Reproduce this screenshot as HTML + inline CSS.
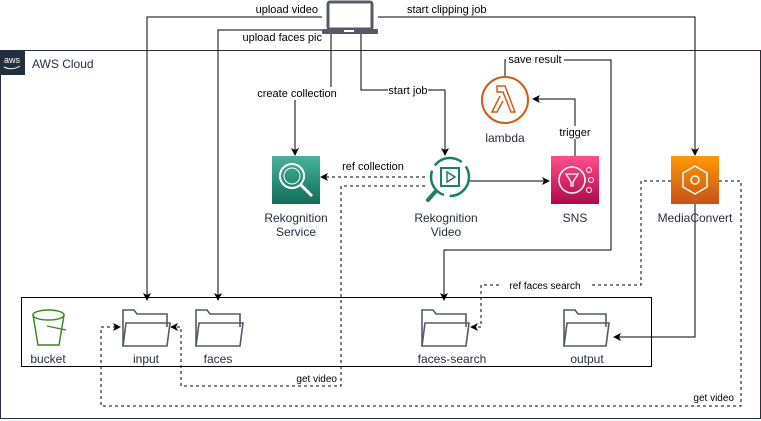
<!DOCTYPE html>
<html><head><meta charset="utf-8"><style>
html,body{margin:0;padding:0;background:#fff}
svg{display:block}
text{font-family:"Liberation Sans",Arial,sans-serif;font-size:11px;fill:#000}
.lbl{fill:#232F3E;font-size:12px}
</style></head><body>
<svg width="761" height="421" viewBox="0 0 761 421" xmlns="http://www.w3.org/2000/svg">
<defs>
<marker id="a" markerWidth="8" markerHeight="8" refX="7" refY="4" orient="auto" markerUnits="userSpaceOnUse"><path d="M0,0 L8,4 L0,8 L2,4z" fill="#000"/></marker>
<linearGradient id="gG" x1="0" y1="1" x2="0" y2="0"><stop offset="0" stop-color="#116D5B"/><stop offset="1" stop-color="#4AB29A"/></linearGradient>
<linearGradient id="gP" x1="0" y1="1" x2="0" y2="0"><stop offset="0" stop-color="#B0084D"/><stop offset="1" stop-color="#FF4F8B"/></linearGradient>
<linearGradient id="gO" x1="0" y1="1" x2="0" y2="0"><stop offset="0" stop-color="#C8511B"/><stop offset="1" stop-color="#FF9900"/></linearGradient>
</defs>
<!-- AWS cloud -->
<rect x="0.5" y="50.5" width="760" height="368" fill="none" stroke="#232F3E" stroke-width="1"/>
<rect x="0" y="50" width="25" height="25" fill="#232F3E"/>
<text x="4" y="63" style="fill:#fff;font-size:9px">aws</text>
<path d="M4,67 Q12,71 20,66" stroke="#fff" fill="none" stroke-width="1"/>
<text x="32" y="68" class="lbl">AWS Cloud</text>
<!-- laptop -->
<rect x="328" y="2" width="44" height="27" rx="2" fill="none" stroke="#545B64" stroke-width="3"/>
<rect x="322" y="29" width="56" height="5" rx="1" fill="#545B64"/>
<rect x="344" y="30" width="10" height="2" fill="#fff"/>
<!-- bucket box -->
<rect x="21.5" y="297.5" width="630" height="69" fill="none" stroke="#000"/>
<g stroke="#000" fill="none" stroke-width="1">
<path d="M322,17 H147 V300" marker-end="url(#a)"/>
<path d="M322,30 H218 V300" marker-end="url(#a)"/>
<path d="M331,34 V93 H295 V155" marker-end="url(#a)"/>
<path d="M361,34 V90 H445 V155" marker-end="url(#a)"/>
<path d="M378,17 H695 V155" marker-end="url(#a)"/>
<path d="M468,181 H549" marker-end="url(#a)"/>
<path d="M575,156 V99 H533" marker-end="url(#a)"/>
<path d="M505,76 V60 H611 V250 H444 V300" marker-end="url(#a)"/>
<path d="M695,204 V337 H614" marker-end="url(#a)"/>
</g>
<g stroke="#000" fill="none" stroke-width="1" stroke-dasharray="3,3">
<path d="M425,177 H321" marker-end="url(#a)"/>
<path d="M425,186 H341 V386 H181 V327 H171" marker-end="url(#a)"/>
<path d="M671,181 H641 V285 H481 V327 H471" marker-end="url(#a)"/>
<path d="M719,181 H741 V406 H101 V327 H120" marker-end="url(#a)"/>
</g>
<!-- labels on lines -->
<g>
<rect x="252" y="3" width="68" height="13" fill="#fff"/><text x="318" y="13" text-anchor="end">upload video</text>
<rect x="242" y="31" width="80" height="13" fill="#fff"/><text x="322" y="41" text-anchor="end">upload faces pic</text>
<rect x="380" y="3" width="90" height="13" fill="#fff"/><text x="407" y="13">start clipping job</text>
<rect x="256" y="87" width="82" height="13" fill="#fff"/><text x="297" y="97" text-anchor="middle">create collection</text>
<rect x="388" y="84" width="40" height="13" fill="#fff"/><text x="408" y="94" text-anchor="middle">start job</text>
<rect x="340" y="160" width="66" height="13" fill="#fff"/><text x="373" y="170" text-anchor="middle">ref collection</text>
<rect x="506" y="53" width="58" height="13" fill="#fff"/><text x="535" y="63" text-anchor="middle">save result</text>
<rect x="557" y="126" width="36" height="13" fill="#fff"/><text x="575" y="136" text-anchor="middle">trigger</text>
<rect x="500" y="279" width="90" height="13" fill="#fff"/><text x="545" y="289" text-anchor="middle" style="font-size:10px">ref  faces search</text>
<text x="337" y="382" text-anchor="end" style="font-size:10px">get video</text>
<text x="734" y="401" text-anchor="end" style="font-size:10px">get video</text>
</g>
<!-- Rekognition Service -->
<rect x="272" y="156" width="48" height="48" fill="url(#gG)"/>
<circle cx="292" cy="176" r="12" fill="none" stroke="#fff" stroke-width="2"/>
<circle cx="292" cy="176" r="8" fill="none" stroke="#fff" stroke-width="1"/>
<path d="M301,185 L312,196" stroke="#fff" stroke-width="3"/>
<text x="296" y="222" text-anchor="middle" class="lbl">Rekognition</text>
<text x="296" y="236" text-anchor="middle" class="lbl">Service</text>
<!-- Rekognition Video -->
<circle cx="450" cy="177" r="19" fill="none" stroke="#1A7F64" stroke-width="2.5" stroke-dasharray="30,6"/>
<rect x="441" y="168" width="18" height="18" fill="none" stroke="#1A7F64" stroke-width="2"/>
<path d="M447,172 L455,177 L447,182z" fill="none" stroke="#1A7F64" stroke-width="1.5"/>
<path d="M436,191 L428,200" stroke="#1A7F64" stroke-width="4" stroke-linecap="round"/>
<text x="446" y="222" text-anchor="middle" class="lbl">Rekognition</text>
<text x="446" y="236" text-anchor="middle" class="lbl">Video</text>
<!-- SNS -->
<rect x="551" y="156" width="48" height="48" fill="url(#gP)"/>
<circle cx="572" cy="180" r="13" fill="none" stroke="#fff" stroke-width="1.5"/>
<path d="M566,174 H578 L573,182 V186 H571 V182z" fill="none" stroke="#fff" stroke-width="1.3"/>
<circle cx="589" cy="170" r="2.5" fill="none" stroke="#fff"/><circle cx="591" cy="180" r="2.5" fill="none" stroke="#fff"/><circle cx="589" cy="190" r="2.5" fill="none" stroke="#fff"/>
<text x="575" y="222" text-anchor="middle" class="lbl">SNS</text>
<!-- lambda -->
<circle cx="505" cy="100" r="23" fill="none" stroke="#D05C17" stroke-width="2"/>
<path d="M497,86 H505 L515,112 H511 L503,92 H497z M500,96 L492,112 H497 L503,101" fill="none" stroke="#D05C17" stroke-width="1.5"/>
<text x="505" y="142" text-anchor="middle" class="lbl">lambda</text>
<!-- MediaConvert -->
<rect x="671" y="156" width="48" height="48" fill="url(#gO)"/>
<path d="M695,166 L707,173 V187 L695,194 L683,187 V173z" fill="none" stroke="#fff" stroke-width="1.5"/>
<circle cx="695" cy="180" r="4" fill="none" stroke="#fff" stroke-width="1.5"/>
<text x="695" y="222" text-anchor="middle" class="lbl">MediaConvert</text>
<!-- bucket -->
<path d="M33,315 L38,345 H59 L64,315" fill="none" stroke="#3F8624" stroke-width="1.5"/>
<ellipse cx="48.5" cy="315" rx="15.5" ry="5" fill="none" stroke="#3F8624" stroke-width="1.5"/>
<path d="M47,326 L66,330" stroke="#3F8624" stroke-width="1.3"/>
<text x="48" y="363" text-anchor="middle" class="lbl">bucket</text>
<!-- folders -->
<g fill="none" stroke="#545B64" stroke-width="1.6">
<path id="f" d="M123,346 V310 H134 L137,314 H167 V327"/>
<path d="M123,346 L126,323 H170 L167,346z"/>
<path d="M196,346 V310 H207 L210,314 H240 V327"/><path d="M196,346 L199,323 H243 L240,346z"/>
<path d="M422,346 V310 H433 L436,314 H466 V327"/><path d="M422,346 L425,323 H469 L466,346z"/>
<path d="M564,346 V310 H575 L578,314 H606 V327"/><path d="M564,346 L567,323 H609 L606,346z"/>
</g>
<text x="146" y="363" text-anchor="middle" class="lbl">input</text>
<text x="218" y="363" text-anchor="middle" class="lbl">faces</text>
<text x="452" y="363" text-anchor="middle" class="lbl">faces-search</text>
<text x="587" y="363" text-anchor="middle" class="lbl">output</text>
</svg>
</body></html>
